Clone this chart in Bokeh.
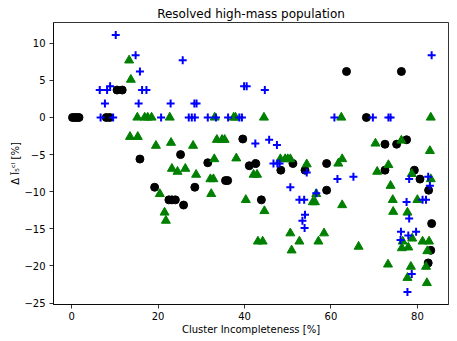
from bokeh.plotting import figure
from bokeh.models import Range1d, FixedTicker
from bokeh.embed import file_html
from bokeh.resources import INLINE

# Black circles
black_x = [0.2, 0.7, 1.2, 1.7, 8.0, 8.8, 10.5, 11.7, 15.8, 19.2, 22.5, 23.2, 24.0, 25.2,
           25.9, 28.5, 31.5, 35.6, 36.1, 39.6, 41.1, 42.6, 43.9, 48.4, 51.2, 54.0, 59.0,
           59.0, 63.6, 68.2, 72.5, 75.2, 76.3, 77.5, 72.5, 79.3, 80.6, 82.6, 83.3, 83.1, 82.5]
black_y = [0, 0, 0, 0, 0, 0, 3.7, 3.7, -5.6, -9.4, -11.1, -11.1, -11.1, -5.0,
           -11.8, -9.4, -6.1, -8.5, -8.5, -2.9, -6.5, -6.2, -11.1, -7.1, -6.2, -7.1, -6.2,
           -9.8, 6.2, 0, -3.6, -3.6, 6.2, -3.0, -7.1, -7.1, -8.3, -9.8, -14.3, -17.9, -19.6]

# Green triangles
green_x = [13.3, 13.7, 15.2, 16.9, 17.6, 18.5, 22.7, 13.5, 15.3, 19.5, 23.0, 23.2, 24.5,
           20.4, 21.5, 21.8, 26.3, 28.1, 28.8, 32.1, 32.8, 32.3, 33.0, 33.1, 33.6, 34.8,
           35.4, 37.5, 37.9, 38.1, 40.3, 42.1, 42.9, 43.1, 44.2, 44.5, 44.6, 48.3, 49.4,
           50.0, 50.6, 50.6, 50.9, 52.7, 54.4, 55.8, 56.3, 56.6, 57.1, 58.4, 61.7, 62.6,
           62.4, 62.6, 66.4, 70.3, 70.7, 73.3, 73.8, 74.3, 74.4, 73.2, 76.3, 76.4, 76.6,
           77.7, 77.9, 77.7, 78.5, 78.7, 78.8, 80.0, 81.2, 82.0, 82.2, 82.3, 82.7, 82.9,
           83.1, 83.1]
green_y = [7.7, 5.1, 0, 0, 0, 0, 0, -2.6, -2.6, -3.8, -3.4, -6.9, -7.3,
           -10.3, -12.8, -13.9, -6.9, -3.8, -7.7, -8.3, -8.3, -10.3, -5.6, 0, -3.0, -3.0,
           -3.0, 0, 0, -5.5, -11.1, -7.7, -7.7, -16.7, -16.7, 0, -12.6, -5.6, -5.6,
           -5.6, -5.6, -15.6, -17.9, -16.7, -6.3, -11.4, -11.4, -10.3, -16.7, -15.6, -6.2, -5.6,
           0, -11.8, -17.4, -3.5, -7.3, -6.4, -9.2, -11.1, -12.7, -19.8, -3.1, -17.6, -16.7,
           -12.8, -17.5, -21.6, -20.1, -7.6, -16.3, -11.1, -16.7, -20.1, -22.3, -18.0, -16.7, -4.5,
           -8.3, 0]

# Blue crosses
blue_x = [10.2, 14.8, 15.8, 6.5, 8.2, 8.9, 16.3, 17.3, 7.7, 15.5, 22.9, 6.7, 9.6, 20.7,
          25.7, 39.9, 40.5, 44.7, 28.4, 28.9, 27.1, 27.8, 28.5, 31.5, 33.4, 36.2, 38.8,
          39.4, 42.5, 45.7, 47.5, 46.7, 47.6, 48.1, 54.4, 50.6, 52.7, 53.8, 54.0, 53.4,
          53.9, 56.6, 60.8, 61.5, 65.2, 69.7, 73.3, 73.8, 78.1, 82.9, 77.5, 81.2, 82.0,
          78.1, 76.2, 77.9, 79.7, 76.1, 78.7, 77.7, 83.3, 82.5]
blue_y = [11.1, 8.4, 6.2, 3.7, 3.7, 4.2, 3.7, 3.7, 1.9, 1.9, 1.9, 0, 0, 0,
          7.7, 4.2, 4.2, 3.7, 1.9, 1.9, 0, 0, 0, 0, 0, 0, 0,
          0, -3.5, -3.0, -3.7, -6.2, -6.2, -6.2, -7.4, -9.4, -11.1, -11.1, -13.1, -13.9,
          -14.9, -10.2, 0, -8.3, -8.0, 0, 0, 0, -8.3, -9.2, -11.4, -11.1, -11.1,
          -13.6, -15.4, -15.9, -15.4, -16.5, -21.1, -23.5, 8.4, -8.0]

x_ticks = [0, 20, 40, 60, 80]
y_ticks = [10, 5, 0, -5, -10, -15, -20, -25]

p = figure(width=457, height=341, output_backend="svg", toolbar_location=None,
           x_range=Range1d(-4.2, 87.2), y_range=Range1d(-25.2, 12.8),
           title="Resolved high-mass population",
           min_border=0, min_border_left=53, min_border_right=9, min_border_top=22,
           min_border_bottom=37)

p.title.text_font = "DejaVu Sans"
p.title.text_font_size = "12px"
p.title.text_font_style = "normal"
p.title.text_color = "black"
p.title.align = "center"
p.title.standoff = 3
p.title.offset = 0

p.xgrid.visible = False
p.ygrid.visible = False
p.outline_line_color = "black"
p.outline_line_width = 0.8
p.background_fill_color = "white"
p.border_fill_color = "white"

for ax in (p.xaxis[0], p.yaxis[0]):
    ax.major_tick_in = 0
    ax.major_tick_out = 4
    ax.minor_tick_line_color = None
    ax.axis_line_color = "black"
    ax.axis_line_width = 0.8
    ax.major_tick_line_width = 0.8
    ax.major_label_text_font = "DejaVu Sans"
    ax.major_label_text_font_size = "10px"
    ax.major_label_text_color = "black"
    ax.axis_label_text_font = "DejaVu Sans"
    ax.axis_label_text_font_size = "10px"
    ax.axis_label_text_font_style = "normal"
    ax.axis_label_text_color = "black"

p.xaxis.ticker = FixedTicker(ticks=x_ticks)
p.yaxis.ticker = FixedTicker(ticks=y_ticks)
p.yaxis.major_label_overrides = {t: (str(t).replace("-", "\u2212")) for t in y_ticks}
p.xaxis.axis_label = "Cluster Incompleteness [%]"
p.yaxis.axis_label = "Δ l\u0303\u2085\u1d9c\u02e1 [%]"
p.xaxis.major_label_standoff = 3
p.xaxis.axis_label_standoff = 1
p.yaxis.major_label_standoff = 4
p.yaxis.axis_label_standoff = 0

p.scatter(black_x, black_y, marker="circle", size=8, fill_color="black", line_color="black")
p.scatter(green_x, green_y, marker="triangle", size=9, fill_color="green", line_color="green")
p.scatter(blue_x, blue_y, marker="cross", size=8, line_color="blue", line_width=2)

open("out.html", "w").write(file_html(p, INLINE))
